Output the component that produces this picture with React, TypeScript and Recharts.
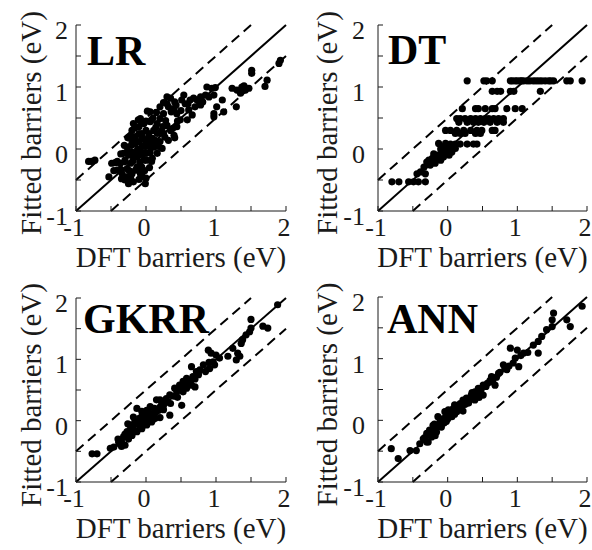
import React from 'react';
import { ScatterChart, Scatter, XAxis, YAxis, ReferenceLine } from 'recharts';

// ---------- data ----------
const axisTicks = [-1, -0.5, 0, 0.5, 1, 1.5, 2];
const panelNames = ['LR', 'DT', 'GKRR', 'ANN'];
const xTitle = 'DFT barriers (eV)';
const yTitle = 'Fitted barriers (eV)';

// [DFT barrier, fitted barrier]
const lrPoints: number[][] = [
  [-0.82, -0.2], [-0.78, -0.2], [-0.73, -0.18], [-0.49, -0.23], [-0.44, -0.22], [-0.53, -0.45],
  [1.92, 1.43], [1.9, 1.38], [1.51, 1.27], [1.51, 1.22], [1.73, 1.11], [1.7, 1.01],
  [1.23, 0.98], [1.3, 0.95], [1.37, 1.0], [1.42, 0.95], [1.47, 0.98], [1.35, 0.9], [1.4, 1.02],
  [1.29, 0.68], [1.11, 0.6], [0.97, 0.57], [0.97, 0.52], [1.01, 0.68], [1.09, 0.79],
  [0.87, 1.0], [0.94, 0.98], [0.99, 0.99], [0.78, 0.84], [0.85, 0.87], [0.9, 0.84], [0.97, 0.87], [0.68, 0.82], [0.63, 0.79],
  [0.54, 0.87], [0.51, 0.79], [0.35, 0.82], [0.3, 0.73], [0.32, 0.68], [0.56, 0.73], [0.61, 0.63], [0.66, 0.55], [0.7, 0.68], [0.73, 0.79],
  [0.78, 0.71], [0.59, 0.47], [0.49, 0.47], [0.44, 0.57], [0.4, 0.65], [0.25, 0.57], [0.2, 0.49], [0.3, 0.38], [0.35, 0.3], [0.4, 0.22],
  [0.32, 0.14], [0.23, 0.01], [0.16, -0.07], [0.09, -0.15], [0.2, 0.12], [0.11, 0.03],
  [0.02, 0.61], [-0.08, 0.49], [-0.1, 0.36], [-0.2, 0.3], [-0.22, 0.2], [-0.15, 0.09], [-0.27, 0.03], [-0.32, -0.07], [-0.37, -0.23],
  [-0.41, -0.34], [-0.34, -0.4], [-0.27, -0.45], [-0.25, -0.56], [-0.18, -0.53], [-0.01, -0.56], [-0.08, -0.4], [-0.13, -0.29],
  [-0.03, -0.18], [0.01, -0.07], [0.06, 0.03], [-0.01, 0.14], [-0.06, 0.25], [0.04, 0.25], [0.11, 0.3], [0.16, 0.41], [0.06, 0.44],
  [-0.03, 0.41], [-0.18, 0.41], [0.09, 0.17], [0.13, 0.14], [-0.08, -0.02], [-0.18, -0.13], [-0.22, -0.23], [-0.15, -0.34],
  [-0.06, -0.29], [-0.27, -0.32], [-0.2, -0.05], [-0.1, 0.12], [0.01, -0.18], [-0.13, -0.13], [-0.3, -0.18],
  [0.2, 0.68], [0.43, 0.71], [0.3, 0.84], [0.44, 0.36], [0.25, 0.25], [0.16, 0.25],
  [-0.05, 0.05], [-0.12, 0.0], [0.0, 0.3], [-0.1, -0.1], [0.05, -0.3], [-0.2, -0.4], [-0.05, -0.45], [-0.3, -0.5],
  [0.1, 0.5], [0.0, 0.45], [-0.15, 0.2], [0.05, 0.1], [-0.25, -0.1], [-0.1, 0.25], [0.15, 0.05], [-0.02, -0.35],
  [-0.11, 0.47], [0.08, 0.47], [0.28, 0.46], [0.45, 0.45], [-0.16, 0.34], [0.14, 0.35], [0.24, 0.36], [0.38, 0.33],
  [-0.26, 0.18], [-0.05, 0.18], [0.04, 0.2], [0.27, 0.19], [0.41, 0.18], [-0.31, 0.06], [-0.21, 0.06], [-0.01, 0.04],
  [0.09, 0.06], [0.18, 0.04], [-0.36, -0.08], [-0.26, -0.06], [-0.14, -0.07], [-0.04, -0.08], [0.06, -0.06],
  [-0.41, -0.2], [-0.31, -0.21], [-0.19, -0.2], [-0.09, -0.21], [0.08, -0.2], [-0.46, -0.35], [-0.36, -0.33],
  [-0.24, -0.35], [-0.11, -0.34], [-0.35, -0.48], [-0.22, -0.47], [-0.1, -0.49], [0.0, -0.47], [0.06, 0.6],
  [0.15, 0.59], [0.36, 0.6], [0.5, 0.62], [0.25, 0.75], [0.41, 0.76], [0.6, 0.73], [0.81, 0.76], [-0.2, 0.13], [0.22, 0.29],
];

const dtPoints: number[][] = [
  [0.28, 1.1], [0.52, 1.1], [0.56, 1.1], [0.64, 1.1], [0.9, 1.1], [0.93, 1.1], [0.97, 1.1], [1.0, 1.1], [1.04, 1.1], [1.06, 1.1],
  [1.09, 1.1], [1.14, 1.1], [1.18, 1.1], [1.23, 1.1], [1.27, 1.1], [1.31, 1.1], [1.35, 1.1], [1.4, 1.1], [1.45, 1.1], [1.48, 1.1],
  [1.52, 1.1], [1.71, 1.1], [1.76, 1.1], [1.93, 1.1],
  [0.64, 0.93], [0.71, 0.93], [0.76, 0.93], [0.9, 0.93], [0.95, 0.93], [1.33, 0.93],
  [0.21, 0.65], [0.4, 0.65], [0.44, 0.65], [0.54, 0.65], [0.64, 0.65], [0.68, 0.65], [0.85, 0.65], [0.97, 0.65], [1.07, 0.65],
  [0.13, 0.49], [0.18, 0.49], [0.25, 0.49], [0.33, 0.49], [0.4, 0.49], [0.47, 0.49], [0.54, 0.49], [0.59, 0.49], [0.66, 0.49], [0.73, 0.49], [0.8, 0.49],
  [0.16, 0.43], [0.28, 0.43], [0.37, 0.43], [0.44, 0.43], [0.52, 0.43], [0.61, 0.43], [0.71, 0.43], [0.8, 0.43],
  [-0.03, 0.3], [0.04, 0.3], [0.13, 0.3], [0.23, 0.3], [0.33, 0.3], [0.42, 0.3], [0.49, 0.3], [0.64, 0.3], [0.68, 0.3],
  [0.11, 0.25], [0.18, 0.25], [0.25, 0.25], [0.4, 0.25], [0.47, 0.25],
  [0.04, 0.08], [0.11, 0.08], [0.18, 0.08], [0.28, 0.08], [0.37, 0.08], [0.42, 0.08],
  [-0.13, 0.09], [-0.06, 0.03], [-0.08, -0.05], [-0.15, -0.1], [-0.22, -0.15], [-0.3, -0.21], [-0.25, -0.26], [-0.18, -0.23],
  [-0.01, -0.07], [0.06, -0.05], [0.11, 0.01], [-0.1, -0.18], [-0.06, -0.13], [0.01, 0.01], [-0.03, 0.09], [-0.34, -0.29],
  [-0.1, 0.0], [-0.02, 0.0], [0.04, 0.03], [-0.18, -0.18], [-0.12, -0.13], [-0.2, -0.08], [-0.27, -0.18], [0.02, -0.1],
  [-0.39, -0.37], [-0.44, -0.4], [-0.32, -0.4], [-0.56, -0.53], [-0.49, -0.53], [-0.42, -0.53], [-0.32, -0.53], [-0.8, -0.53], [-0.7, -0.53],
];

const gkrrPoints: number[][] = [
  [1.88, 1.89], [1.5, 1.65], [1.5, 1.51], [1.43, 1.4], [1.48, 1.45], [1.36, 1.26], [1.38, 1.32], [1.67, 1.54], [1.74, 1.51],
  [1.24, 1.18], [1.31, 1.1], [1.34, 1.05], [1.29, 0.99], [1.17, 1.05],
  [0.89, 1.15], [0.93, 1.1], [1.0, 1.07], [1.05, 1.02], [0.96, 0.96], [0.98, 0.91], [0.91, 0.85], [0.82, 0.91], [0.77, 0.83],
  [0.65, 0.88], [0.72, 0.8], [0.67, 0.72], [0.63, 0.64], [0.58, 0.69], [0.53, 0.64], [0.48, 0.58], [0.41, 0.53], [0.44, 0.47],
  [0.34, 0.42], [0.29, 0.36], [0.22, 0.31], [0.2, 0.34], [0.15, 0.34], [0.25, 0.25], [0.51, 0.25], [0.65, 0.58], [0.7, 0.55],
  [0.58, 0.53], [0.53, 0.47], [0.34, 0.09],
  [-0.13, 0.2], [-0.06, 0.15], [0.01, 0.17], [0.06, 0.12], [0.1, 0.09], [0.03, 0.04], [-0.04, -0.02], [-0.09, 0.04], [-0.16, -0.02],
  [-0.23, -0.07], [-0.18, -0.13], [-0.27, -0.18], [-0.32, -0.26], [-0.39, -0.35], [-0.3, -0.4], [-0.35, -0.35], [-0.46, -0.43],
  [-0.51, -0.45], [-0.77, -0.54], [-0.7, -0.54], [0.01, -0.07], [0.08, -0.02], [0.13, 0.04], [-0.06, -0.13], [-0.13, -0.18],
  [-0.2, -0.24], [-0.01, 0.07], [0.06, 0.23], [0.18, 0.17], [-0.1, -0.06], [0.0, 0.0], [-0.05, 0.1], [-0.25, -0.3], [0.12, 0.2],
  [-0.4, -0.3], [-0.35, -0.42], [-0.3, -0.22], [-0.22, -0.15], [-0.15, -0.05], [-0.08, -0.08], [-0.02, 0.05], [0.05, 0.1],
  [0.1, 0.02], [0.15, 0.15], [0.2, 0.22], [0.25, 0.18], [0.3, 0.3], [0.35, 0.28], [0.4, 0.4], [0.45, 0.38], [0.5, 0.52],
  [0.55, 0.6], [0.6, 0.58], [0.7, 0.68], [0.75, 0.75], [0.85, 0.8], [0.9, 0.95], [-0.18, 0.06], [-0.26, -0.05], [0.2, 0.05],
];

const annPoints: number[][] = [
  [1.93, 1.85], [1.52, 1.74], [1.5, 1.63], [1.5, 1.52], [1.71, 1.63], [1.76, 1.52], [1.42, 1.47], [1.35, 1.36], [1.3, 1.28],
  [1.23, 1.22], [1.3, 1.09], [1.09, 1.09], [1.0, 1.14], [0.9, 1.17], [0.97, 1.01], [0.94, 0.93], [1.02, 0.87], [0.8, 0.9],
  [0.85, 0.82], [0.73, 0.76], [0.63, 0.71], [0.68, 0.57], [0.61, 0.65], [0.51, 0.57], [0.44, 0.52], [0.39, 0.46], [0.34, 0.41],
  [0.27, 0.36], [0.22, 0.33], [0.18, 0.27], [0.39, 0.33], [0.51, 0.41], [0.13, 0.22], [0.08, 0.19], [0.03, 0.11], [-0.02, 0.08],
  [-0.06, 0.03], [-0.11, -0.02], [-0.14, 0.06], [-0.04, 0.14], [0.01, 0.17], [0.13, 0.14], [0.06, 0.06], [-0.21, -0.08],
  [-0.26, -0.16], [-0.3, -0.21], [-0.35, -0.3], [-0.28, -0.35], [-0.23, -0.27], [-0.16, -0.19], [-0.09, -0.11], [-0.45, -0.49],
  [-0.54, -0.49], [-0.81, -0.46], [-0.71, -0.62], [-0.02, -0.02], [0.47, 0.47], [0.57, 0.6], [0.3, 0.28], [0.7, 0.7],
  [-0.4, -0.38], [-0.33, -0.28], [-0.25, -0.22], [-0.2, -0.15], [-0.12, -0.1], [-0.05, -0.04], [0.0, 0.02], [0.05, 0.08],
  [0.1, 0.1], [0.15, 0.18], [0.2, 0.2], [0.25, 0.26], [0.3, 0.33], [0.35, 0.36], [0.42, 0.42], [0.48, 0.5], [0.55, 0.55],
  [0.6, 0.62], [0.65, 0.66], [0.75, 0.78], [0.82, 0.85], [0.88, 0.88], [1.05, 1.05], [1.15, 1.1], [-0.3, -0.35], [-0.18, -0.25],
  [0.1, 0.25], [0.35, 0.45], [-0.19, -0.06], [0.22, 0.15], [0.45, 0.37],
];

const panelData = [lrPoints, dtPoints, gkrrPoints, annPoints];

// ---------- layout (page pixels) ----------
const CHART_W = 296;
const CHART_H = 275;
const Y_AXIS_W = 60;
const X_AXIS_H = 60;
const layout = [
  { cx: 0, cy: 0, left: 76, top: 25, right: 286, bottom: 211, yGap: 8, nameX: 87, nameY: 65 },
  { cx: 296, cy: 0, left: 378, top: 25, right: 587, bottom: 211, yGap: 13, nameX: 388, nameY: 64 },
  { cx: 0, cy: 275, left: 76, top: 298, right: 286, bottom: 482, yGap: 8, nameX: 83, nameY: 333 },
  { cx: 296, cy: 275, left: 378, top: 297, right: 587, bottom: 482, yGap: 13, nameX: 387, nameY: 333 },
];

const SERIF = '"Liberation Serif", "Times New Roman", serif';
const INK = '#1a1a1a';
const TICK_FS = 26;
const TITLE_FS = 29;

const fmt = (v: number) => (Number.isInteger(v) ? String(v) : '');

const BottomTick = (props: any) => {
  const { x, y, payload } = props;
  const s = fmt(payload.value);
  if (!s) return <g />;
  return (
    <text x={x - 2} y={y} textAnchor="middle" fontFamily={SERIF} fontSize={TICK_FS} fill={INK}>
      {s}
    </text>
  );
};

const LeftTick = (props: any) => {
  const { x, y, payload } = props;
  const s = fmt(payload.value);
  if (!s) return <g />;
  return (
    <text x={x} y={y + 14} textAnchor="end" fontFamily={SERIF} fontSize={TICK_FS} fill={INK}>
      {s}
    </text>
  );
};

const Dot = (props: any) => <circle cx={props.cx} cy={props.cy} r={3.6} fill="#000" />;

function Panel({ idx }: { idx: number }) {
  const L = layout[idx];
  const margin = {
    top: L.top - L.cy,
    left: L.left - L.cx - Y_AXIS_W,
    right: L.cx + CHART_W - L.right,
    bottom: L.cy + CHART_H - L.bottom - X_AXIS_H,
  };
  const data = panelData[idx].map(([x, y]) => ({ x, y }));
  return (
    <div style={{ position: 'absolute', left: L.cx, top: L.cy, width: CHART_W, height: CHART_H }}>
      <ScatterChart width={CHART_W} height={CHART_H} margin={margin}>
        <XAxis
          xAxisId="b"
          type="number"
          dataKey="x"
          orientation="bottom"
          domain={[-1, 2]}
          allowDataOverflow
          ticks={axisTicks}
          interval={0}
          height={X_AXIS_H}
          tickSize={-5}
          tickMargin={5 + 25}
          tick={<BottomTick />}
          axisLine={{ stroke: INK, strokeWidth: 1 }}
          tickLine={{ stroke: INK, strokeWidth: 1 }}
        />
        <XAxis
          xAxisId="t"
          type="number"
          orientation="top"
          domain={[-1, 2]}
          allowDataOverflow
          ticks={axisTicks}
          interval={0}
          height={0}
          tickSize={-5}
          tick={false}
          axisLine={{ stroke: INK, strokeWidth: 1 }}
          tickLine={{ stroke: INK, strokeWidth: 1 }}
        />
        <YAxis
          yAxisId="l"
          type="number"
          dataKey="y"
          orientation="left"
          domain={[-1, 2]}
          allowDataOverflow
          ticks={axisTicks}
          interval={0}
          width={Y_AXIS_W}
          tickSize={-5}
          tickMargin={5 + L.yGap}
          tick={<LeftTick />}
          axisLine={{ stroke: INK, strokeWidth: 1 }}
          tickLine={{ stroke: INK, strokeWidth: 1 }}
        />
        <YAxis
          yAxisId="r"
          type="number"
          orientation="right"
          domain={[-1, 2]}
          allowDataOverflow
          ticks={axisTicks}
          interval={0}
          width={0}
          tickSize={-5}
          tick={false}
          axisLine={{ stroke: INK, strokeWidth: 1 }}
          tickLine={{ stroke: INK, strokeWidth: 1 }}
        />
        <ReferenceLine
          xAxisId="b"
          yAxisId="l"
          segment={[{ x: -1, y: -1 }, { x: 2, y: 2 }]}
          stroke="#000"
          strokeWidth={2}
        />
        <ReferenceLine
          xAxisId="b"
          yAxisId="l"
          segment={[{ x: -1, y: -0.5 }, { x: 1.5, y: 2 }]}
          stroke="#000"
          strokeWidth={2}
          strokeDasharray="10 6"
        />
        <ReferenceLine
          xAxisId="b"
          yAxisId="l"
          segment={[{ x: -0.5, y: -1 }, { x: 2, y: 1.5 }]}
          stroke="#000"
          strokeWidth={2}
          strokeDasharray="10 6"
        />
        <Scatter xAxisId="b" yAxisId="l" data={data} shape={<Dot />} isAnimationActive={false} />
      </ScatterChart>
    </div>
  );
}

export default function App() {
  return (
    <div style={{ position: 'absolute', left: 0, top: 0, width: 592, height: 550, background: '#fff' }}>
      {layout.map((_, i) => (
        <Panel key={i} idx={i} />
      ))}
      <svg
        width={592}
        height={550}
        style={{ position: 'absolute', left: 0, top: 0, pointerEvents: 'none' }}
      >
        {layout.map((L, i) => {
          const midX = (L.left + L.right) / 2;
          const midY = (L.top + L.bottom) / 2 + 5;
          const yx = L.cx + 41;
          return (
            <g key={i}>
              <text x={L.nameX} y={L.nameY} fontFamily={SERIF} fontWeight="bold" fontSize={42} fill="#000">
                {panelNames[i]}
              </text>
              <text x={midX} y={L.bottom + 56} textAnchor="middle" fontFamily={SERIF} fontSize={TITLE_FS} fill={INK}>
                {xTitle}
              </text>
              <text
                x={yx}
                y={midY}
                textAnchor="middle"
                transform={`rotate(-90, ${yx}, ${midY})`}
                fontFamily={SERIF}
                fontSize={TITLE_FS}
                fill={INK}
              >
                {yTitle}
              </text>
            </g>
          );
        })}
      </svg>
    </div>
  );
}
